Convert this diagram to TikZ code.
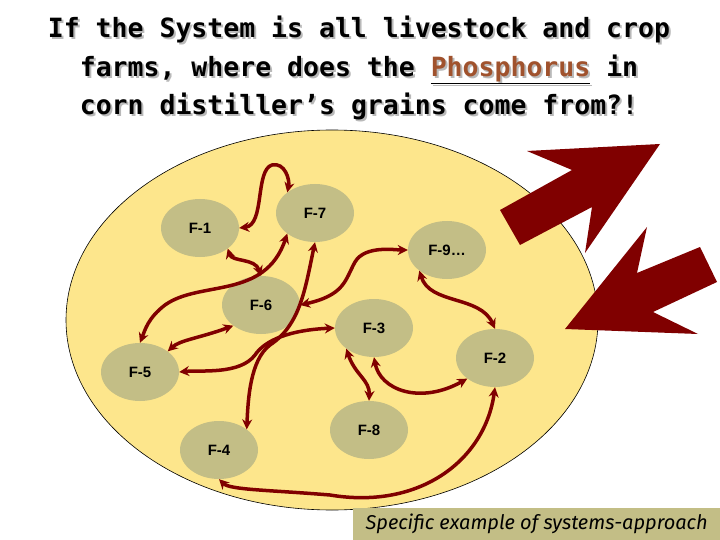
\documentclass[tikz,border=0pt]{standalone}
\usepackage{fontspec}
\setmainfont{Liberation Sans}
\newfontfamily\titlefont{DejaVu Sans Mono}
\newfontfamily\capfont{Fira Sans}
\usetikzlibrary{arrows.meta,shapes.geometric}
\definecolor{bg}{HTML}{FDE68C}
\definecolor{nodef}{HTML}{C3BE86}
\definecolor{arr}{HTML}{800000}
\definecolor{phos}{HTML}{A0522D}
\tikzset{
 farm/.style={ellipse, fill=nodef, minimum width=78pt, minimum height=58pt, inner sep=0pt, font=\bfseries\fontsize{15}{17}\selectfont},
 link/.style={draw=arr, line width=3.5pt, {Stealth[length=10pt,width=10pt]}-{Stealth[length=10pt,width=10pt]}},
 big/.style={fill=arr},
 ttl/.style={font=\titlefont\bfseries\fontsize{26.5}{38.5}\selectfont, align=center}
}
\begin{document}
\begin{tikzpicture}[x=1pt,y=-1pt]
\useasboundingbox (0,0) rectangle (720,540);
\fill[white] (0,0) rectangle (720,540);
\begin{scope}
\clip (0,0) rectangle (720,540);
\draw[fill=bg, draw=black, line width=0.6pt] (332,320) ellipse [x radius=266, y radius=190];
\end{scope}
% big arrows
\fill[big] (500,210) -- (572,170) -- (527,151) -- (660,144) -- (585,253) -- (592,207) -- (520,245) -- cycle;
\fill[big] (700,247) -- (637,273) -- (647,227) -- (565,329) -- (698,334) -- (653,312) -- (717,282) -- cycle;
% farms
\node[farm] (f1) at (200,228) {F-1};
\node[farm] (f7) at (315,213) {F-7};
\node[farm] (f9) at (447,250) {F-9\ldots};
\node[farm] (f6) at (261,305) {F-6};
\node[farm] (f3) at (374,328) {F-3};
\node[farm] (f2) at (495,358) {F-2};
\node[farm] (f5) at (140,372) {F-5};
\node[farm] (f8) at (369,430) {F-8};
\node[farm] (f4) at (219,450) {F-4};
% links
\draw[link] (f1.east) .. controls (265,225) and (255,170) .. (272,165) .. controls (285,162) and (290,180) .. (f7.north west);
\draw[link] (f1.south east) .. controls (232,262) and (255,258) .. (f6.north);
\draw[link] (f7.south west) .. controls (265,300) and (200,280) .. (165,305) .. controls (148,318) and (145,330) .. (f5.north);
\draw[link] (f6.south west) .. controls (200,338) and (180,340) .. (f5.north east);
\draw[link] (f7.south) .. controls (305,290) and (300,325) .. (270,345) .. controls (250,360) and (248,400) .. (f4.north east);
\draw[link] (f3.west) .. controls (290,330) and (265,340) .. (255,355) .. controls (240,375) and (200,370) .. (f5.east);
\draw[link] (f6.east) .. controls (345,295) and (345,280) .. (355,262) .. controls (365,245) and (395,250) .. (f9.west);
\draw[link] (f9.south west) .. controls (430,305) and (480,295) .. (f2.north);
\draw[link] (f3.south west) .. controls (355,375) and (370,380) .. (f8.north);
\draw[link] (f3.south) .. controls (380,390) and (420,405) .. (f2.south west);
\draw[link] (f2.south) .. controls (485,460) and (420,510) .. (330,495) .. controls (270,490) and (230,490) .. (f4.south);
% title with shadow
\node[ttl, text=gray!55] (shadow) at (361,70) {If the System is all livestock and crop\\farms, where does the \underline{Phosphorus} in\\corn distiller’s grains come from?!};
\node[ttl] (title) at (359,68) {If the System is all livestock and crop\\farms, where does the \underline{\textcolor{phos}{Phosphorus}} in\\corn distiller’s grains come from?!};
% caption
\node[fill=nodef, minimum width=367pt, minimum height=32pt, anchor=north west, inner sep=0pt, font=\capfont\itshape\fontsize{20}{22}\selectfont] (cap) at (353,508) {Specific example of systems-approach};
\end{tikzpicture}
\end{document}
